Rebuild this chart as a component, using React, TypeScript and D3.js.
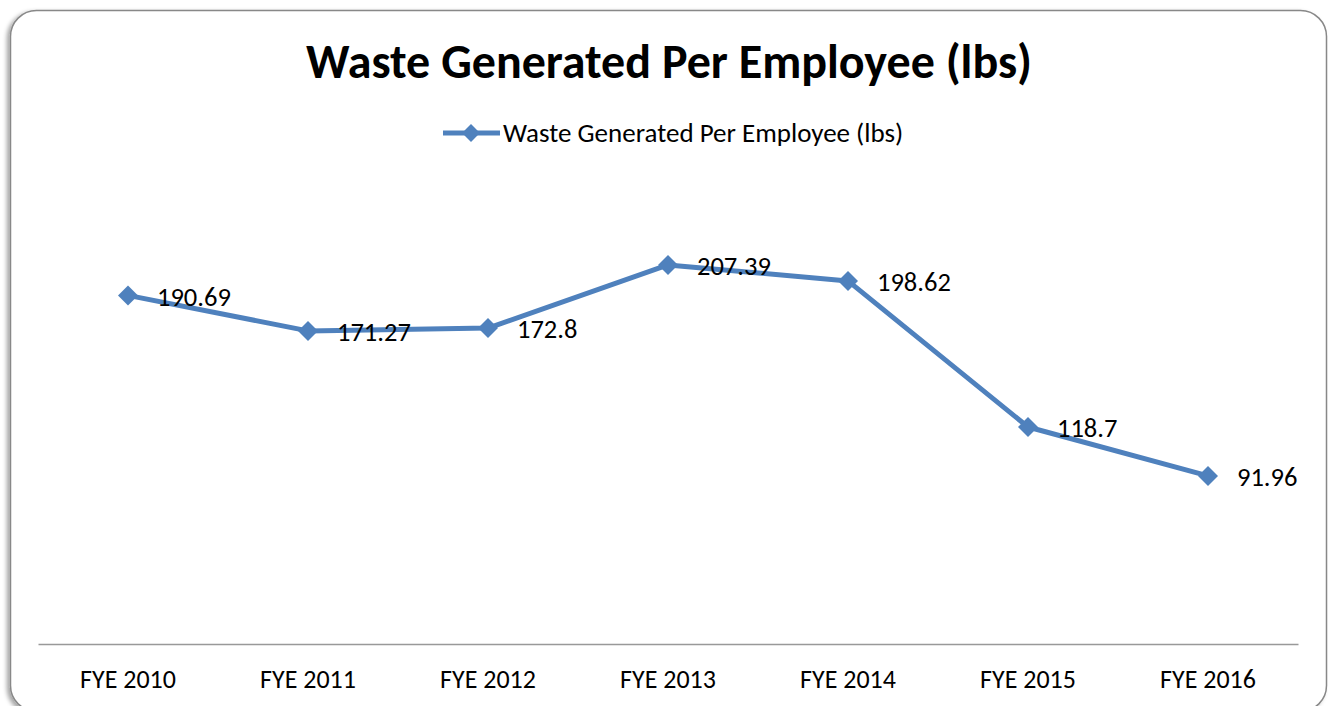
import React, { useEffect, useRef } from "react";
import * as d3 from "d3";

const years = ["FYE 2010", "FYE 2011", "FYE 2012", "FYE 2013", "FYE 2014", "FYE 2015", "FYE 2016"];
const waste = [190.69, 171.27, 172.8, 207.39, 198.62, 118.7, 91.96];
const seriesName = "Waste Generated Per Employee (lbs)";
const blue = "#4F81BD";
const font = "Calibri, Carlito, 'Open Sans', sans-serif";

// square diamond (d3's own diamond is stretched vertically)
const squareDiamond = {
  draw(ctx: any, size: number) {
    const r = Math.sqrt(size / 2);
    ctx.moveTo(0, -r);
    ctx.lineTo(r, 0);
    ctx.lineTo(0, r);
    ctx.lineTo(-r, 0);
    ctx.closePath();
  },
};

export default function App() {
  const ref = useRef<SVGSVGElement>(null);

  useEffect(() => {
    const svg = d3.select(ref.current);
    svg.selectAll("*").remove();

    const defs = svg.append("defs");
    const f = defs.append("filter").attr("id", "sh").attr("x", "-5%").attr("y", "-5%").attr("width", "110%").attr("height", "110%");
    f.append("feDropShadow").attr("dx", -3).attr("dy", 2).attr("stdDeviation", 2).attr("flood-color", "#000").attr("flood-opacity", 0.35);

    // card runs slightly past the bottom of the frame
    svg.append("rect")
      .attr("x", 10.5).attr("y", 10.5)
      .attr("width", 1316).attr("height", 701)
      .attr("rx", 26)
      .attr("fill", "#fff")
      .attr("stroke", "#888")
      .attr("stroke-width", 1.5)
      .attr("filter", "url(#sh)");

    const x = d3.scaleBand().domain(years).range([38, 1298]);
    const y = d3.scaleLinear().domain([0, 250]).range([644, 187]);
    const cx = (d: string) => (x(d) as number) + x.bandwidth() / 2;
    const diamond = d3.symbol(squareDiamond as any, 200);

    // title
    svg.append("text")
      .attr("x", 669).attr("y", 78)
      .attr("text-anchor", "middle")
      .style("font-family", font)
      .style("font-weight", "bold")
      .style("font-size", "48px")
      .text(seriesName);

    // legend
    const lg = svg.append("g");
    lg.append("line").attr("x1", 443).attr("x2", 500).attr("y1", 133).attr("y2", 133)
      .attr("stroke", blue).attr("stroke-width", 5);
    lg.append("path").attr("d", d3.symbol(squareDiamond as any, 160)()).attr("transform", "translate(471,133)")
      .attr("fill", blue);
    lg.append("text").attr("x", 503).attr("y", 133).attr("dy", "0.35em")
      .style("font-family", font).style("font-size", "27px").text(seriesName);

    // x axis
    const ax = svg.append("g")
      .attr("transform", `translate(0,${y(0)})`)
      .call(d3.axisBottom(x).tickSize(0).tickPadding(26));
    ax.select(".domain").attr("stroke", "#999").attr("stroke-width", 1.5);
    ax.selectAll("text").style("font-family", font).style("font-size", "26px").attr("fill", "#000");

    // line
    const line = d3.line<number>().x((_, i) => cx(years[i])).y(d => y(d));
    svg.append("path").datum(waste).attr("d", line).attr("fill", "none")
      .attr("stroke", blue).attr("stroke-width", 5).attr("stroke-linejoin", "round");

    svg.append("g").selectAll("path").data(waste).enter().append("path")
      .attr("d", diamond())
      .attr("transform", (d, i) => `translate(${cx(years[i])},${y(d)})`)
      .attr("fill", blue);

    svg.append("g").selectAll("text").data(waste).enter().append("text")
      .attr("x", (d, i) => cx(years[i]) + 29)
      .attr("y", d => y(d) + 1)
      .attr("dy", "0.35em")
      .style("font-family", font).style("font-size", "26.5px")
      .text(d => String(d));
  }, []);

  return <svg ref={ref} width={1328} height={706} style={{ position: "absolute", left: 0, top: 0 }}></svg>;
}
